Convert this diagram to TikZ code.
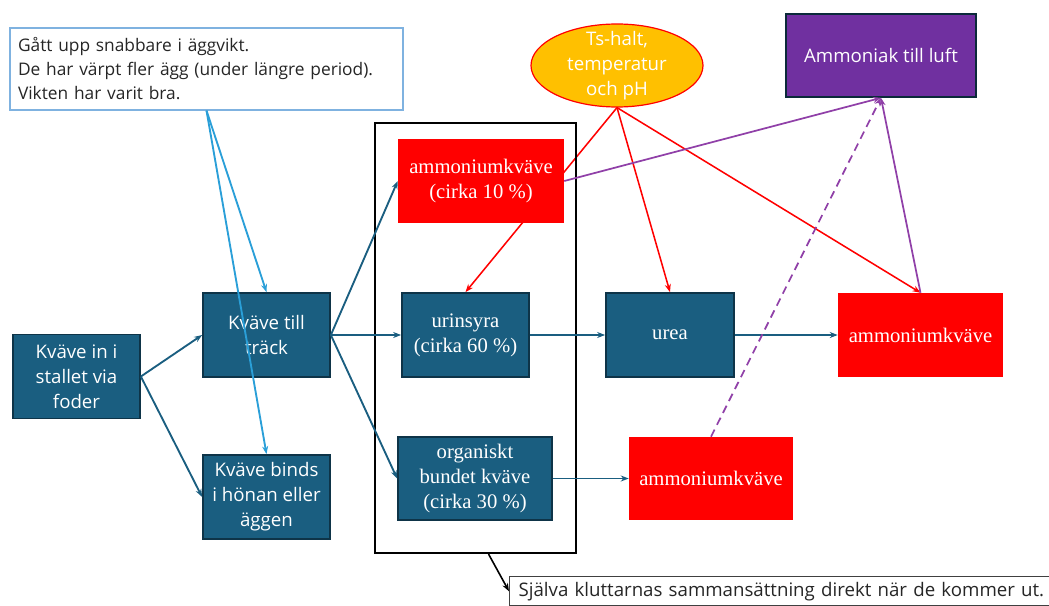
\documentclass[tikz,border=0pt]{standalone}
\usepackage{fontspec}
\setmainfont{Open Sans}
\newfontfamily\timesfont{Liberation Serif}
\usetikzlibrary{arrows.meta,shapes.geometric,backgrounds}
\definecolor{boxblue}{HTML}{1A5E80}
\definecolor{edgeblue}{HTML}{0E3448}
\definecolor{lightline}{HTML}{2A9FD8}
\definecolor{calloutblue}{HTML}{7FB2E0}
\definecolor{ammpurple}{HTML}{7030A0}
\definecolor{linepurple}{HTML}{9040A8}
\definecolor{tsyellow}{HTML}{FFC000}
\definecolor{textgray}{HTML}{262626}
\begin{document}
\begin{tikzpicture}[x=0.75pt,y=-0.75pt,>={Stealth[length=6pt,width=4.5pt]},
  sanstext/.style={font=\fontsize{14}{18.75}\selectfont},
  seriftext/.style={font=\timesfont\fontsize{15.5}{18.75}\selectfont},
  box/.style={align=center,inner sep=0pt,text=white,minimum height=63pt},
  bluebox/.style={box,draw=edgeblue,fill=boxblue,line width=1.3pt},
  redbox/.style={box,fill=red,seriftext},
  flow/.style={->,draw=boxblue,line width=1.4pt},
  hint/.style={->,draw=lightline,line width=1.4pt},
  heat/.style={->,draw=red,line width=1.15pt},
  gas/.style={->,draw=linepurple,line width=1.3pt}]
\useasboundingbox (0,0) rectangle (1049,606);
% boxes
\node[bluebox,sanstext,minimum width=95.25pt] (foder) at (76.5,376.5) {Kväve in i\\stallet via\\foder};
\node[bluebox,sanstext,minimum width=95.25pt] (track) at (266.5,335) {Kväve till\\träck};
\node[bluebox,sanstext,minimum width=95.25pt] (binds) at (266.5,497) {Kväve binds\\i hönan eller\\äggen};
\node[draw=black,line width=1.5pt,minimum width=150.75pt,minimum height=322.5pt] (frame) at (475.5,338) {};
\node[redbox,minimum width=124.5pt] (amm10) at (481,181) {ammoniumkväve\\(cirka 10 \%)};
\node[bluebox,seriftext,minimum width=95.25pt] (urin) at (465.5,335) {urinsyra\\(cirka 60 \%)};
\node[bluebox,seriftext,minimum width=115.5pt,minimum height=62.25pt] (org) at (475,478.5) {organiskt\\bundet kväve\\(cirka 30 \%)};
\node[bluebox,seriftext,minimum width=96pt] (urea) at (670,335) {urea};
\node[redbox,minimum width=123.75pt] (ammR) at (920.5,335) {ammoniumkväve};
\node[redbox,minimum width=123pt,minimum height=62.25pt] (ammB) at (711,478.5) {ammoniumkväve};
\node[ellipse,draw=red,fill=tsyellow,line width=0.9pt,inner sep=0pt,minimum width=129pt,minimum height=62.25pt,
  label={[sanstext,text=white,align=center]center:Ts-halt,\\temperatur\\och pH}] (ts) at (617,65.5) {};
\node[box,sanstext,draw=edgeblue!80!black,fill=ammpurple,line width=1.3pt,minimum width=142.5pt,minimum height=62.25pt] (luft) at (881,55.5) {Ammoniak till luft};
% notes
\node[draw=calloutblue,line width=0.9pt,fill=white,text=textgray,align=left,inner xsep=6pt,inner ysep=0pt,
  text width=282.75pt,minimum height=61.5pt,font=\fontsize{13}{18}\selectfont] (info) at (206.5,69)
  {Gått upp snabbare i äggvikt.\\De har värpt fler ägg (under längre period).\\Vikten har varit bra.};
\node[draw=black!75,line width=0.9pt,fill=white,text=textgray,align=left,anchor=north west,inner xsep=6.75pt,inner ysep=4pt,
  text width=450pt,font=\fontsize{14}{18}\selectfont] (note) at (509,576)
  {Själva kluttarnas sammansättning direkt när de kommer ut.};
% connectors
\foreach \i/\j in {foder/track,foder/binds,track/urin,urin/urea,urea/ammR,org/ammB} {
  \draw[flow] (\i.east) -- (\j.west);
}
\foreach \j in {amm10,org} {
  \draw[flow] (track.east) -- (\j.west);
}
\foreach \j in {track,binds} {
  \draw[hint] (info.south) -- (\j.north);
}
\begin{scope}[on background layer]
\draw[heat] (ts.south) -- (urin.north);
\end{scope}
\foreach \j in {urea,ammR} {
  \draw[heat] (ts.south) -- (\j.north);
}
\draw[gas] (amm10.east) -- (luft.south);
\draw[gas] (ammR.north) -- (luft.south);
\draw[gas,dashed,dash pattern=on 6pt off 4pt] (ammB.north) -- (luft.south);
\draw[->,line width=1.2pt] ([xshift=9.75pt]frame.south) -- (note.west);
\end{tikzpicture}
\end{document}
